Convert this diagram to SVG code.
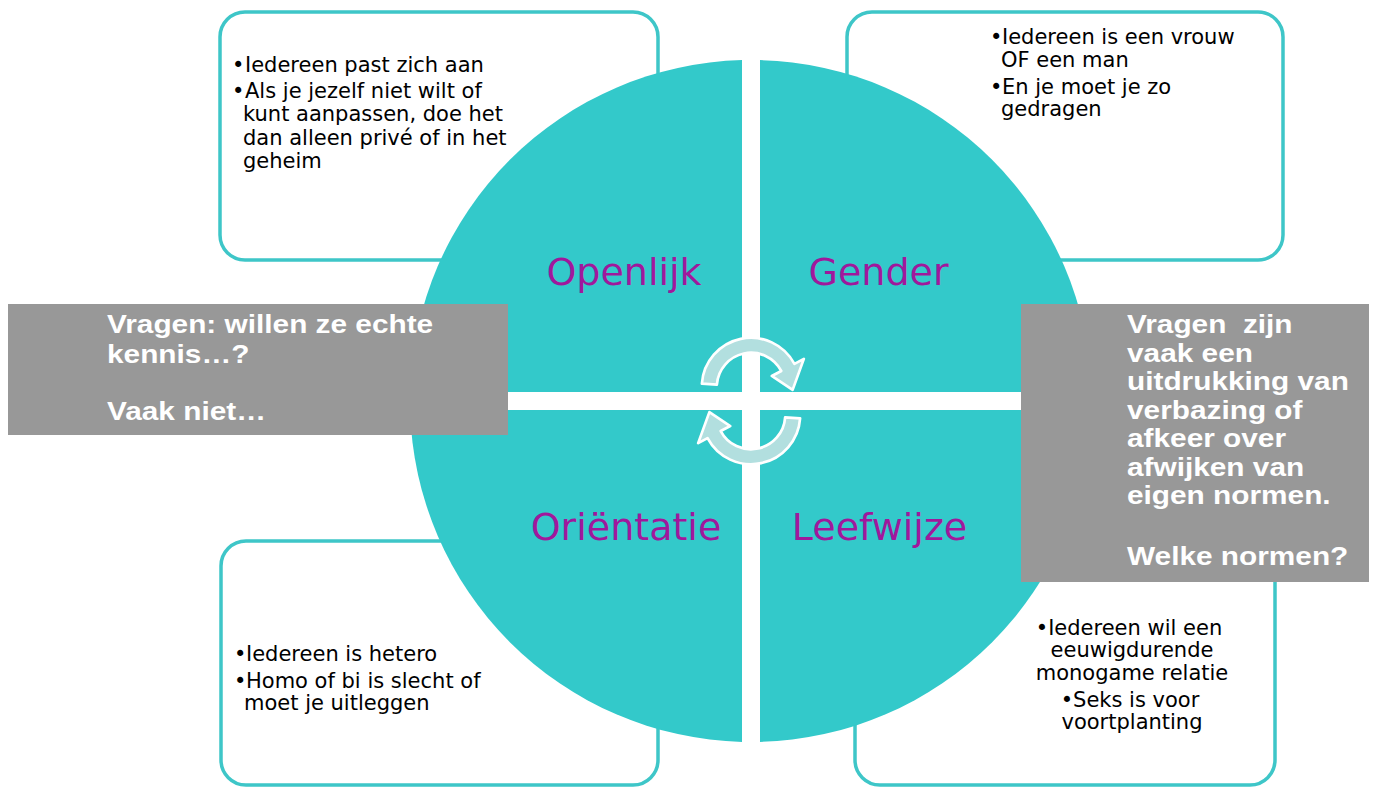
<svg xmlns="http://www.w3.org/2000/svg" width="1373" height="787" viewBox="0 0 1373 787">
<style>
.box{fill:#ffffff;stroke:#3ec6c8;stroke-width:3.5}
.quad{fill:#33c9ca}
.lbl{font-family:"DejaVu Sans","Verdana",sans-serif;font-size:38px;fill:#a0189c;text-anchor:middle}
.bt{font-family:"DejaVu Sans","Verdana",sans-serif;font-size:21px;fill:#000000}
.btc{font-family:"DejaVu Sans","Verdana",sans-serif;font-size:21px;fill:#000000;text-anchor:middle}
.grey{fill:#989898}
.gt{font-family:"Liberation Sans","Arial",sans-serif;font-size:26.5px;font-weight:bold;fill:#ffffff}
.arr{fill:#b2dfdf;stroke:#ffffff;stroke-width:2.5;stroke-linejoin:round}
</style>
<rect width="1373" height="787" fill="#ffffff"/>
<g id="box-openlijk">
<rect class="box" x="220" y="12" width="438" height="248" rx="25"/>
<text class="bt" x="232" y="72">•</text><text class="bt" x="245" y="72">Iedereen past zich aan</text>
<text class="bt" x="232" y="98">•</text><text class="bt" x="245" y="98">Als je jezelf niet wilt of</text>
<text class="bt" x="243" y="121.3">kunt aanpassen, doe het</text>
<text class="bt" x="243" y="144.6">dan alleen privé of in het</text>
<text class="bt" x="243" y="167.9">geheim</text>
</g>
<g id="box-gender">
<rect class="box" x="847" y="12" width="436" height="248" rx="25"/>
<text class="bt" x="990" y="44.3">•</text><text class="bt" x="1002" y="44.3">Iedereen is een vrouw</text>
<text class="bt" x="1001" y="66.7">OF een man</text>
<text class="bt" x="990" y="93.5">•</text><text class="bt" x="1002" y="93.5">En je moet je zo</text>
<text class="bt" x="1001" y="116">gedragen</text>
</g>
<g id="box-orientatie">
<rect class="box" x="221" y="541" width="437" height="244" rx="25"/>
<text class="bt" x="234" y="660.7">•</text><text class="bt" x="246" y="660.7">Iedereen is hetero</text>
<text class="bt" x="234" y="687.7">•</text><text class="bt" x="246" y="687.7">Homo of bi is slecht of</text>
<text class="bt" x="244" y="710">moet je uitleggen</text>
</g>
<g id="box-leefwijze">
<rect class="box" x="855" y="541" width="420" height="244" rx="25"/>
<text class="btc" x="1129" y="635">•Iedereen wil een</text>
<text class="btc" x="1132" y="657.3">eeuwigdurende</text>
<text class="btc" x="1132" y="680">monogame relatie</text>
<text class="btc" x="1130" y="706.7">•Seks is voor</text>
<text class="btc" x="1132" y="729.3">voortplanting</text>
</g>
<g id="quad-openlijk">
<path class="quad" d="M742,392 V60.1 A341,341 0 0 0 410.1,392 Z"/>
<text class="lbl" x="624" y="285">Openlijk</text>
</g>
<g id="quad-gender">
<path class="quad" d="M760,392 V60.1 A341,341 0 0 1 1091.9,392 Z"/>
<text class="lbl" x="878.5" y="285">Gender</text>
</g>
<g id="quad-orientatie">
<path class="quad" d="M742,410 V741.9 A341,341 0 0 1 410.1,410 Z"/>
<text class="lbl" x="626" y="540">Oriëntatie</text>
</g>
<g id="quad-leefwijze">
<path class="quad" d="M760,410 V741.9 A341,341 0 0 0 1091.9,410 Z"/>
<text class="lbl" x="879.5" y="540">Leefwijze</text>
</g>
<g id="connectors">
<path id="arrow-top" class="arr" transform="translate(751 387) scale(1.07) translate(-751 -387)" d="M705.1,383.8 A46,46 0 0 1 791.6,365.4 L800.4,360.7 L789.9,389.7 L770.4,376.7 L779.3,372 A32,32 0 0 0 719.1,384.8 Z"/>
<path id="arrow-bottom" class="arr" transform="rotate(180 751 401) translate(751 387) scale(1.07) translate(-751 -387)" d="M705.1,383.8 A46,46 0 0 1 791.6,365.4 L800.4,360.7 L789.9,389.7 L770.4,376.7 L779.3,372 A32,32 0 0 0 719.1,384.8 Z"/>
</g>
<g id="note-left">
<rect class="grey" x="8" y="304" width="500" height="131"/>
<g transform="translate(107 0) scale(1.125 1)">
<text class="gt" x="0" y="333.3">Vragen: willen ze echte</text>
<text class="gt" x="0" y="362.7">kennis…?</text>
<text class="gt" x="0" y="420">Vaak niet…</text>
</g>
</g>
<g id="note-right">
<rect class="grey" x="1021" y="304" width="348" height="278"/>
<g transform="translate(1127 0) scale(1.125 1)">
<text class="gt" x="0" y="333.3" xml:space="preserve">Vragen  zijn</text>
<text class="gt" x="0" y="362">vaak een</text>
<text class="gt" x="0" y="390.5">uitdrukking van</text>
<text class="gt" x="0" y="419">verbazing of</text>
<text class="gt" x="0" y="447.5">afkeer over</text>
<text class="gt" x="0" y="476">afwijken van</text>
<text class="gt" x="0" y="504.5">eigen normen.</text>
<text class="gt" x="0" y="565">Welke normen?</text>
</g>
</g>
</svg>
